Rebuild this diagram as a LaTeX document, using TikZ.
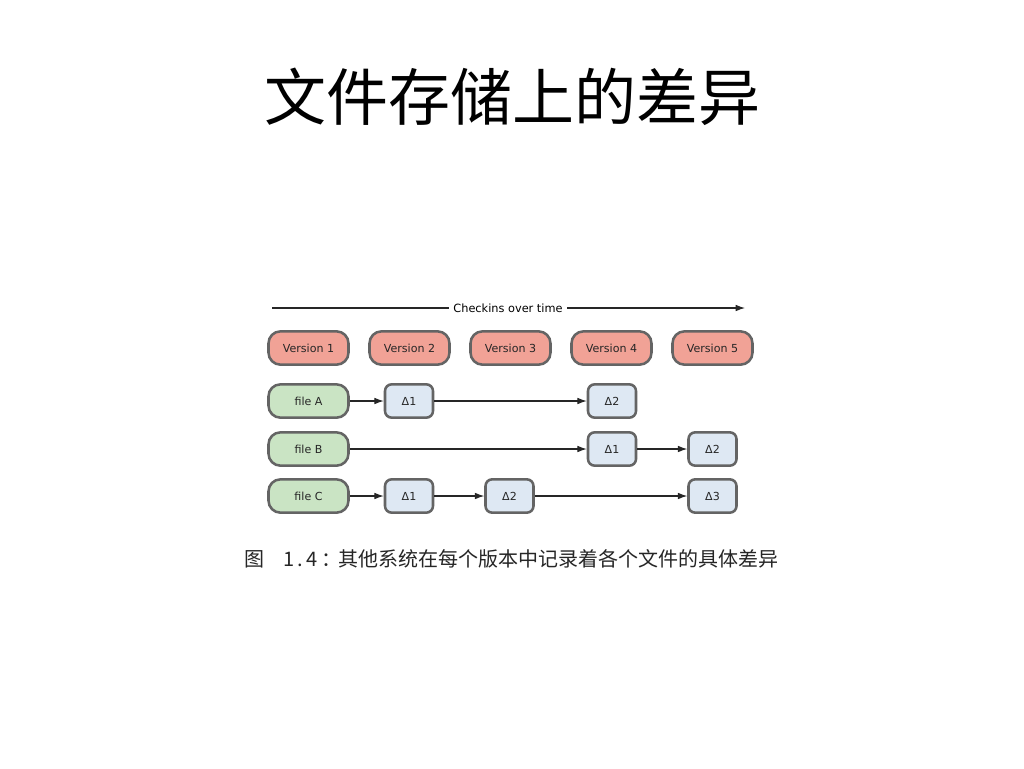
\documentclass[tikz,border=0pt]{standalone}
\usepackage{fontspec}
\setmainfont{DejaVu Sans}
\newfontfamily\cjk{Noto Sans CJK SC}
\usetikzlibrary{arrows.meta}
\definecolor{verfill}{RGB}{241,162,150}
\definecolor{filefill}{RGB}{202,228,196}
\definecolor{deltafill}{RGB}{222,232,243}
\definecolor{boxline}{RGB}{100,100,100}
\tikzset{
  box/.style={draw=boxline, line width=1.9pt, font=\fontsize{8.3}{10}\selectfont, text=black!85, inner sep=0pt},
  verbox/.style={box, fill=verfill, rounded corners=9pt, minimum width=60pt, minimum height=25pt},
  filebox/.style={box, fill=filefill, rounded corners=9pt, minimum width=60pt, minimum height=25pt},
  deltabox/.style={box, fill=deltafill, rounded corners=5pt, minimum width=36pt, minimum height=25pt},
  conn/.style={draw=black!85, line width=0.8pt, -{Latex[length=7pt,width=5pt]}},
  captxt/.style={font=\cjk\fontsize{15}{18}\selectfont, anchor=west, inner sep=0pt, text=black!85},
}
\begin{document}
\begin{tikzpicture}[x=0.75pt,y=-0.75pt]
\useasboundingbox[fill=white] (0,0) rectangle (1024,768);
\node[font=\cjk\fontsize{46.5}{50}\selectfont] (title) at (512,97) {文件存储上的差异};

\coordinate (ts) at (272,308);
\coordinate (te) at (745,308);
\draw[conn] (ts) -- (te);
\node[fill=white, inner xsep=3pt, inner ysep=1pt, font=\fontsize{8.5}{10}\selectfont] (lbl) at (508,308) {Checkins over time};

\node[verbox] (v1) at (308.5,348) {Version 1};
\node[verbox] (v2) at (409.5,348) {Version 2};
\node[verbox] (v3) at (510.5,348) {Version 3};
\node[verbox] (v4) at (611.5,348) {Version 4};
\node[verbox] (v5) at (712.5,348) {Version 5};

\node[filebox] (fa) at (308.5,401) {file A};
\node[filebox] (fb) at (308.5,449) {file B};
\node[filebox] (fc) at (308.5,496) {file C};

\node[deltabox] (a1) at (409,401) {Δ1};
\node[deltabox] (a2) at (612,401) {Δ2};
\node[deltabox] (b1) at (612,449) {Δ1};
\node[deltabox] (b2) at (712.5,449) {Δ2};
\node[deltabox] (c1) at (409,496) {Δ1};
\node[deltabox] (c2) at (509.5,496) {Δ2};
\node[deltabox] (c3) at (712.5,496) {Δ3};

\draw[conn] (fa) -- (a1);
\draw[conn] (a1) -- (a2);
\draw[conn] (fb) -- (b1);
\draw[conn] (b1) -- (b2);
\draw[conn] (fc) -- (c1);
\draw[conn] (c1) -- (c2);
\draw[conn] (c2) -- (c3);

\node[captxt] (cap1) at (244,559) {图};
\node[captxt] (cap2) at (283,559) {1\,.\,4\,：};
\node[captxt] (cap3) at (338,559) {其他系统在每个版本中记录着各个文件的具体差异};
\end{tikzpicture}
\end{document}
